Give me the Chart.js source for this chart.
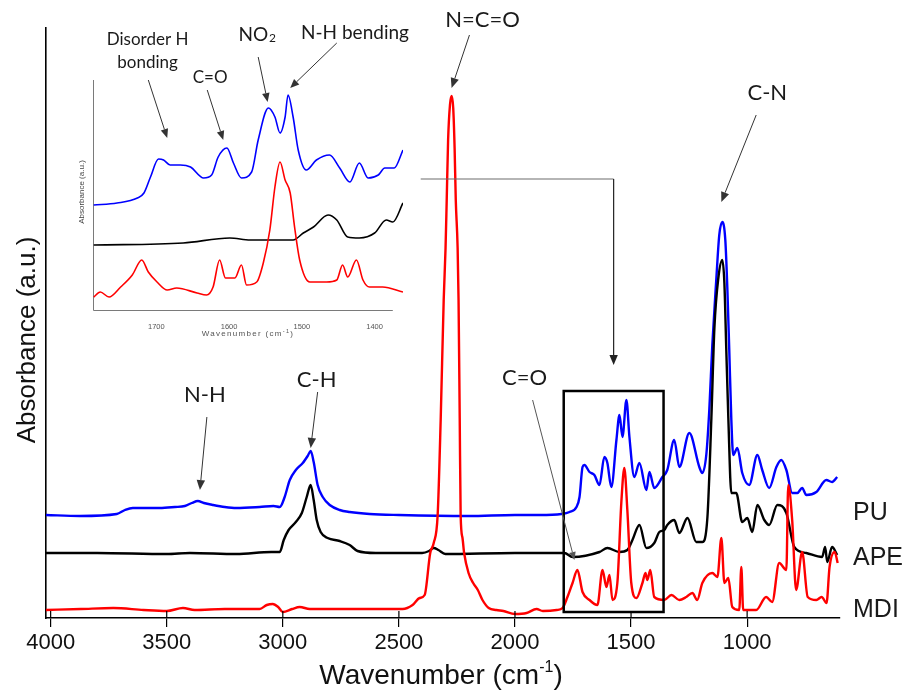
<!DOCTYPE html>
<html>
<head>
<meta charset="utf-8">
<script src="https://cdn.jsdelivr.net/npm/chart.js@4.4.1/dist/chart.umd.min.js"></script>
<style>
  html, body { margin: 0; padding: 0; background: #fff; }
  #wrap { position: relative; width: 908px; height: 691px; }
  #main { position: absolute; left: 0; top: 0; }
  #inset { position: absolute; left: 50px; top: 0; }
</style>
</head>
<body>
<div id="wrap">
  <canvas id="main" width="908" height="691"></canvas>
  <canvas id="inset" width="380" height="345"></canvas>
</div>
<script>
// FTIR spectra, offset traces, absorbance in arbitrary units
const puWavenumber = [4020, 3874, 3715, 3680, 3646, 3530, 3465, 3422, 3392, 3366, 3340, 3300, 3250, 3200, 3100, 3040, 3013, 2992, 2970, 2944, 2914, 2893, 2880, 2867, 2850, 2828, 2798, 2755, 2712, 2626, 2500, 2200, 2000, 1894, 1800, 1765, 1735, 1722, 1709, 1701, 1679, 1658, 1636, 1615, 1602, 1585, 1563, 1550, 1537, 1520, 1507, 1486, 1464, 1434, 1421, 1400, 1365, 1344, 1314, 1292, 1249, 1206, 1193, 1176, 1163, 1150, 1133, 1120, 1107, 1094, 1085, 1077, 1068, 1060, 1042, 1021, 991, 956, 935, 905, 874, 853, 831, 806, 784, 763, 745, 702, 659, 634, 612];
const puAbsorbance = [10.3, 10.2, 10.4, 10.8, 11.0, 11.0, 11.1, 11.2, 11.5, 11.7, 11.5, 11.3, 11.1, 11.0, 11.1, 11.2, 11.1, 12.1, 13.8, 14.8, 15.5, 16.2, 16.7, 15.6, 13.3, 12.1, 11.3, 10.8, 10.6, 10.4, 10.3, 10.2, 10.3, 10.3, 10.4, 10.6, 11.1, 12.1, 15.1, 15.3, 14.6, 14.3, 13.3, 16.1, 15.5, 13.1, 17.8, 20.3, 18.1, 21.8, 18.1, 14.1, 15.5, 12.8, 14.6, 13.0, 14.1, 14.8, 17.8, 15.1, 18.5, 15.1, 14.5, 16.3, 20.8, 27.3, 33.8, 38.3, 39.6, 37.8, 32.8, 26.8, 19.8, 16.3, 17.0, 14.5, 13.3, 16.3, 14.8, 13.0, 15.1, 15.8, 14.8, 12.5, 12.5, 13.0, 12.3, 12.6, 13.8, 13.6, 14.1];

const apeWavenumber = [4020, 3800, 3500, 3400, 3200, 3050, 3013, 2996, 2975, 2944, 2918, 2897, 2880, 2867, 2854, 2837, 2807, 2755, 2712, 2678, 2600, 2400, 2370, 2350, 2330, 2300, 2000, 1894, 1787, 1752, 1636, 1602, 1550, 1516, 1494, 1464, 1434, 1400, 1378, 1357, 1344, 1314, 1292, 1257, 1219, 1193, 1171, 1154, 1141, 1124, 1107, 1098, 1090, 1081, 1068, 1047, 1021, 999, 978, 956, 926, 905, 870, 831, 797, 745, 677, 664, 655, 634, 612];
const apeAbsorbance = [6.5, 6.5, 6.4, 6.5, 6.4, 6.6, 6.6, 7.8, 8.8, 9.6, 10.5, 12.1, 13.3, 11.8, 9.8, 8.6, 8.0, 7.7, 7.3, 6.7, 6.5, 6.5, 6.7, 7.0, 6.8, 6.4, 6.5, 6.5, 6.5, 6.1, 6.6, 7.0, 6.6, 6.8, 7.8, 9.3, 7.0, 7.5, 8.6, 8.8, 9.3, 9.8, 8.5, 10.0, 7.6, 7.6, 10.1, 20.0, 29.0, 34.0, 35.8, 33.5, 27.0, 20.0, 12.5, 12.5, 9.6, 10.0, 8.6, 11.3, 9.8, 9.3, 11.3, 10.5, 7.1, 6.5, 6.1, 7.1, 5.6, 7.1, 6.3];

const mdiWavenumber = [4020, 3870, 3730, 3600, 3500, 3430, 3380, 3250, 3100, 3069, 3043, 3020, 3000, 2960, 2927, 2884, 2700, 2484, 2441, 2411, 2389, 2365, 2350, 2333, 2320, 2307, 2299, 2294, 2288, 2280, 2273, 2266, 2260, 2255, 2247, 2243, 2238, 2234, 2226, 2219, 2200, 2180, 2160, 2140, 2113, 2080, 2050, 2000, 1950, 1907, 1880, 1820, 1795, 1774, 1752, 1731, 1709, 1679, 1645, 1623, 1606, 1593, 1580, 1559, 1542, 1529, 1516, 1499, 1477, 1451, 1438, 1430, 1417, 1400, 1357, 1326, 1292, 1262, 1236, 1215, 1193, 1150, 1128, 1111, 1098, 1081, 1064, 1034, 1025, 1017, 961, 918, 892, 862, 831, 823, 806, 789, 763, 739, 702, 679, 658, 645, 623, 610];
const mdiAbsorbance = [0.8, 0.9, 1.0, 0.8, 0.7, 1.0, 0.8, 0.9, 0.9, 1.3, 1.4, 1.1, 0.6, 0.9, 1.1, 0.9, 0.9, 0.9, 1.3, 2.0, 2.3, 6.5, 7.5, 10.3, 19.8, 31.8, 37.0, 41.8, 47.8, 51.3, 52.2, 51.0, 47.0, 41.8, 37.0, 31.8, 20.0, 10.3, 8.0, 6.5, 4.5, 3.5, 2.8, 1.8, 1.0, 0.8, 0.7, 0.4, 0.5, 0.9, 0.7, 0.8, 1.0, 2.1, 3.5, 4.8, 2.6, 1.8, 1.3, 4.8, 3.1, 4.3, 1.8, 3.5, 11.5, 15.0, 10.8, 3.5, 2.0, 3.5, 4.5, 3.8, 4.8, 2.1, 1.8, 2.3, 1.8, 2.1, 2.5, 1.8, 3.5, 4.5, 4.1, 8.0, 3.5, 4.0, 1.1, 0.8, 5.1, 0.8, 0.8, 2.1, 1.6, 5.5, 4.8, 13.3, 9.8, 2.8, 6.6, 2.1, 1.8, 2.1, 1.5, 5.1, 6.6, 5.5];

// inset: 1790-1360 cm-1 region
const insetPuWavenumber = [1786, 1754, 1726, 1717, 1708, 1697, 1690, 1681, 1667, 1653, 1635, 1624, 1615, 1603, 1594, 1583, 1569, 1560, 1546, 1537, 1530, 1523, 1519, 1512, 1505, 1494, 1480, 1462, 1448, 1434, 1421, 1409, 1395, 1386, 1373, 1361];
const insetPuAbsorbance = [10.5, 10.7, 11.2, 11.7, 13.3, 15.1, 15.0, 14.5, 14.5, 14.3, 13.2, 13.5, 15.3, 16.2, 14.7, 13.2, 13.8, 17.0, 20.2, 19.3, 17.7, 19.3, 21.5, 19.3, 16.0, 14.0, 15.0, 15.5, 14.2, 12.8, 14.7, 13.2, 13.5, 14.2, 14.2, 16.0];
const insetApeWavenumber = [1786, 1663, 1599, 1571, 1512, 1498, 1484, 1464, 1452, 1437, 1421, 1400, 1384, 1375, 1361];
const insetApeAbsorbance = [6.5, 6.7, 7.2, 7.0, 7.0, 7.7, 8.3, 9.5, 9.0, 7.3, 7.2, 7.7, 9.0, 8.8, 10.7];
const insetMdiWavenumber = [1786, 1777, 1765, 1749, 1733, 1720, 1711, 1699, 1685, 1672, 1644, 1631, 1622, 1613, 1605, 1592, 1583, 1576, 1562, 1553, 1544, 1537, 1530, 1523, 1516, 1510, 1503, 1489, 1466, 1452, 1444, 1437, 1425, 1416, 1407, 1389, 1361];
const insetMdiAbsorbance = [1.3, 1.8, 1.3, 2.3, 3.5, 5.0, 3.8, 2.8, 2.0, 2.2, 1.7, 1.5, 2.3, 5.0, 3.2, 3.2, 4.5, 2.5, 2.8, 4.7, 8.0, 12.3, 14.8, 13.0, 11.7, 8.3, 5.0, 2.8, 2.8, 3.0, 4.5, 3.3, 5.0, 3.0, 2.3, 2.3, 1.8];

const seriesNames = ['PU', 'APE', 'MDI'];
const seriesColors = ['#0000ff', '#000000', '#ff0000'];
const seriesLabelLevel = [10.5, 6.0, 0.8];

const xTickValues = [4000, 3500, 3000, 2500, 2000, 1500, 1000];
const xTickLabels = ['4000', '3500', '3000', '2500', '2000', '1500', '1000'];
const insetTickValues = [1700, 1600, 1500, 1400];
const insetTickLabels = ['1700', '1600', '1500', '1400'];

// peak annotations: text position, arrow tail and tip in data coordinates
const peakLabels = [
  { text: 'N=C=O', at: [2140, 59.8], tail: [2196, 58.3], tip: [2273, 53.0] },
  { text: 'C-N', at: [913, 52.5], tail: [961, 50.3], tip: [1111, 41.6] },
  { text: 'N-H', at: [3336, 22.3], tail: [3327, 20.1], tip: [3357, 12.8] },
  { text: 'C-H', at: [2854, 23.8], tail: [2850, 22.6], tip: [2880, 17.0] },
  { text: 'C=O', at: [1959, 24.0], tail: [1924, 21.8], tip: [1744, 5.8], thin: true }
];
const insetLabels = [
  { lines: ['Disorder H', 'bonding'], size: 17, at: [1712, 27.0], tail: [1711, 23.0], tip: [1685, 17.2] },
  { lines: ['C=O'], size: 17, at: [1626, 23.2], tail: [1630, 22.0], tip: [1608, 17.0] },
  { lines: ['NO2'], size: 19, at: [1562, 27.5], tail: [1560, 25.3], tip: [1547, 20.8] },
  { lines: ['N-H bending'], size: 19, at: [1427, 27.7], tail: [1452, 26.7], tip: [1516, 22.2] }
];
const zoomBox = { from: 1790, to: 1360, low: 0.6, high: 22.7 };
const connector = { fromW: 2406, level: 43.9, endLevel: 25.3 };

const LABEL_FONT = 'Lato, "Open Sans", sans-serif';
const AXIS_FONT = '"Liberation Sans", Arial, sans-serif';

function toPoints(xs, ys) {
  return xs.map((w, i) => ({ x: w, y: ys[i] }));
}

function arrow(ctx, x1, y1, x2, y2, color, width, head) {
  const ang = Math.atan2(y2 - y1, x2 - x1);
  const bx = x2 - head * Math.cos(ang);
  const by = y2 - head * Math.sin(ang);
  const hw = head * 0.42;
  ctx.strokeStyle = color;
  ctx.fillStyle = color;
  ctx.lineWidth = width;
  ctx.beginPath();
  ctx.moveTo(x1, y1);
  ctx.lineTo(bx, by);
  ctx.stroke();
  ctx.beginPath();
  ctx.moveTo(x2, y2);
  ctx.lineTo(bx + hw * Math.sin(ang), by - hw * Math.cos(ang));
  ctx.lineTo(bx - hw * Math.sin(ang), by + hw * Math.cos(ang));
  ctx.closePath();
  ctx.fill();
}

// text with a superscript part, centred on cx
function supTitle(ctx, base, sup, tail, cx, y, size, supSize, rise) {
  ctx.textAlign = 'left';
  ctx.textBaseline = 'alphabetic';
  ctx.font = size + 'px ' + AXIS_FONT;
  const wb = ctx.measureText(base).width;
  const wt = ctx.measureText(tail).width;
  ctx.font = supSize + 'px ' + AXIS_FONT;
  const ws = ctx.measureText(sup).width;
  let x = cx - (wb + ws + wt) / 2;
  ctx.font = size + 'px ' + AXIS_FONT;
  ctx.fillText(base, x, y);
  x += wb;
  ctx.font = supSize + 'px ' + AXIS_FONT;
  ctx.fillText(sup, x, y - rise);
  x += ws;
  ctx.font = size + 'px ' + AXIS_FONT;
  ctx.fillText(tail, x, y);
}

const mainDecor = {
  id: 'mainDecor',
  afterDraw(chart) {
    const { ctx, chartArea } = chart;
    const xs = chart.scales.x, ys = chart.scales.y;
    const px = (w) => xs.getPixelForValue(w);
    const py = (a) => ys.getPixelForValue(a);
    ctx.save();

    // inner part of the tick marks
    ctx.strokeStyle = '#000';
    ctx.lineWidth = 1.2;
    xTickValues.forEach((t) => {
      ctx.beginPath();
      ctx.moveTo(px(t), chartArea.bottom);
      ctx.lineTo(px(t), chartArea.bottom - 7);
      ctx.stroke();
    });

    // zoom box
    ctx.lineWidth = 2.5;
    ctx.strokeStyle = '#000';
    ctx.strokeRect(px(zoomBox.from), py(zoomBox.high), px(zoomBox.to) - px(zoomBox.from), py(zoomBox.low) - py(zoomBox.high));

    // connector from inset down to the box
    const cx = px((zoomBox.from + zoomBox.to) / 2);
    ctx.strokeStyle = '#6d6d6d';
    ctx.lineWidth = 1.2;
    ctx.beginPath();
    ctx.moveTo(px(connector.fromW), py(connector.level));
    ctx.lineTo(cx, py(connector.level));
    ctx.stroke();
    arrow(ctx, cx, py(connector.level), cx, py(connector.endLevel), '#222', 1.2, 10);

    // peak labels
    ctx.textAlign = 'center';
    ctx.textBaseline = 'middle';
    ctx.font = '22px ' + LABEL_FONT;
    peakLabels.forEach((p) => {
      ctx.fillStyle = '#1a1a1a';
      ctx.fillText(p.text, px(p.at[0]), py(p.at[1]));
      arrow(ctx, px(p.tail[0]), py(p.tail[1]), px(p.tip[0]), py(p.tip[1]),
        p.thin ? '#555' : '#333', 1, p.thin ? 8 : 10);
    });

    // series names on the right
    ctx.textAlign = 'left';
    ctx.textBaseline = 'middle';
    ctx.font = '25px ' + AXIS_FONT;
    ctx.fillStyle = '#1a1a1a';
    seriesNames.forEach((n, i) => {
      ctx.fillText(n, chartArea.right + 13, py(seriesLabelLevel[i]));
    });

    // axis titles
    ctx.fillStyle = '#111';
    supTitle(ctx, 'Wavenumber (cm', '-1', ')', 441, 684, 28, 16, 12);
    ctx.translate(28, 340);
    ctx.rotate(-Math.PI / 2);
    ctx.textAlign = 'center';
    ctx.textBaseline = 'middle';
    ctx.font = '26px ' + AXIS_FONT;
    ctx.fillText('Absorbance (a.u.)', 0, 0);
    ctx.restore();
  }
};

const insetDecor = {
  id: 'insetDecor',
  beforeDatasetsDraw(chart) {
    const { ctx, chartArea } = chart;
    const xs = chart.scales.x;
    ctx.save();
    ctx.strokeStyle = '#7a7a7a';
    ctx.lineWidth = 1;
    ctx.beginPath();
    ctx.moveTo(chartArea.left + 0.5, chartArea.top);
    ctx.lineTo(chartArea.left + 0.5, chartArea.bottom + 0.5);
    ctx.lineTo(xs.getPixelForValue(1375), chartArea.bottom + 0.5);
    ctx.stroke();
    ctx.restore();
  },
  afterDraw(chart) {
    const { ctx } = chart;
    const xs = chart.scales.x, ys = chart.scales.y;
    const px = (w) => xs.getPixelForValue(w);
    const py = (a) => ys.getPixelForValue(a);
    ctx.save();
    ctx.fillStyle = '#555';
    ctx.letterSpacing = '1.3px';
    supTitle(ctx, 'Wavenumber (cm', '-1', ')', 198, 336, 8, 5.5, 3);
    ctx.letterSpacing = '0px';
    ctx.save();
    ctx.translate(32, 192);
    ctx.rotate(-Math.PI / 2);
    ctx.textAlign = 'center';
    ctx.textBaseline = 'middle';
    ctx.font = '8px ' + AXIS_FONT;
    ctx.fillStyle = '#444';
    ctx.fillText('Absorbance (a.u.)', 0, 0);
    ctx.restore();

    insetLabels.forEach((l) => {
      ctx.fillStyle = '#1a1a1a';
      ctx.textBaseline = 'middle';
      ctx.font = l.size + 'px ' + LABEL_FONT;
      const x = px(l.at[0]);
      l.lines.forEach((line, k) => {
        const y = py(l.at[1]) + k * 23;
        if (line === 'NO2') {
          ctx.textAlign = 'left';
          const wNO = ctx.measureText('NO').width;
          ctx.font = '12px ' + LABEL_FONT;
          const w2 = ctx.measureText('2').width;
          ctx.font = l.size + 'px ' + LABEL_FONT;
          ctx.fillText('NO', x - (wNO + w2) / 2, y);
          ctx.font = '12px ' + LABEL_FONT;
          ctx.fillText('2', x - (wNO + w2) / 2 + wNO + 1, y + 3);
        } else {
          ctx.textAlign = 'center';
          ctx.fillText(line, x, y);
        }
      });
      arrow(ctx, px(l.tail[0]), py(l.tail[1]), px(l.tip[0]), py(l.tip[1]), '#333', 1, 9);
    });
    ctx.restore();
  }
};

const mainData = [
  { label: 'MDI', data: toPoints(mdiWavenumber, mdiAbsorbance), borderColor: seriesColors[2], order: 0 },
  { label: 'APE', data: toPoints(apeWavenumber, apeAbsorbance), borderColor: seriesColors[1], order: 1 },
  { label: 'PU', data: toPoints(puWavenumber, puAbsorbance), borderColor: seriesColors[0], order: 2 }
];

new Chart(document.getElementById('main'), {
  type: 'line',
  data: { datasets: mainData },
  options: {
    responsive: false,
    animation: false,
    devicePixelRatio: 1,
    layout: { padding: { top: 28, right: 68, left: 0, bottom: 0 } },
    plugins: { legend: { display: false }, tooltip: { enabled: false } },
    elements: {
      point: { radius: 0 },
      line: { borderWidth: 2.4, cubicInterpolationMode: 'monotone', fill: false }
    },
    scales: {
      x: {
        type: 'linear',
        reverse: true,
        min: 600,
        max: 4020,
        afterBuildTicks: (s) => { s.ticks = xTickValues.map((v) => ({ value: v })); },
        afterFit: (s) => { s.height = 73; },
        ticks: {
          autoSkip: false,
          maxRotation: 0,
          padding: 3,
          color: '#111',
          font: { family: AXIS_FONT, size: 22 },
          callback: (v) => xTickLabels[xTickValues.indexOf(v)]
        },
        grid: { drawOnChartArea: false, tickLength: 9, color: '#000', lineWidth: 1.2 },
        border: { color: '#000', width: 1.6 }
      },
      y: {
        min: 0,
        max: 59,
        afterFit: (s) => { s.width = 46; },
        ticks: { display: false },
        grid: { drawOnChartArea: false, drawTicks: false },
        border: { color: '#000', width: 1.6 }
      }
    }
  },
  plugins: [mainDecor]
});

const insetData = [
  { label: 'MDI', data: toPoints(insetMdiWavenumber, insetMdiAbsorbance), borderColor: seriesColors[2], order: 0 },
  { label: 'APE', data: toPoints(insetApeWavenumber, insetApeAbsorbance), borderColor: seriesColors[1], order: 1 },
  { label: 'PU', data: toPoints(insetPuWavenumber, insetPuAbsorbance), borderColor: seriesColors[0], order: 2 }
];

new Chart(document.getElementById('inset'), {
  type: 'line',
  data: { datasets: insetData },
  options: {
    responsive: false,
    animation: false,
    devicePixelRatio: 1,
    layout: { padding: { top: 80, right: 27, left: 0, bottom: 0 } },
    plugins: { legend: { display: false }, tooltip: { enabled: false } },
    elements: {
      point: { radius: 0 },
      line: { borderWidth: 1.6, cubicInterpolationMode: 'monotone', fill: false }
    },
    scales: {
      x: {
        type: 'linear',
        reverse: true,
        min: 1361,
        max: 1787,
        afterBuildTicks: (s) => { s.ticks = insetTickValues.map((v) => ({ value: v })); },
        afterFit: (s) => { s.height = 35; },
        ticks: {
          autoSkip: false,
          maxRotation: 0,
          padding: 4,
          color: '#555',
          font: { family: AXIS_FONT, size: 7.5 },
          callback: (v) => insetTickLabels[insetTickValues.indexOf(v)]
        },
        grid: { display: false },
        border: { display: false }
      },
      y: {
        min: 0,
        max: 23,
        afterFit: (s) => { s.width = 43; },
        ticks: { display: false },
        grid: { display: false },
        border: { display: false }
      }
    }
  },
  plugins: [insetDecor]
});
</script>
</body>
</html>
